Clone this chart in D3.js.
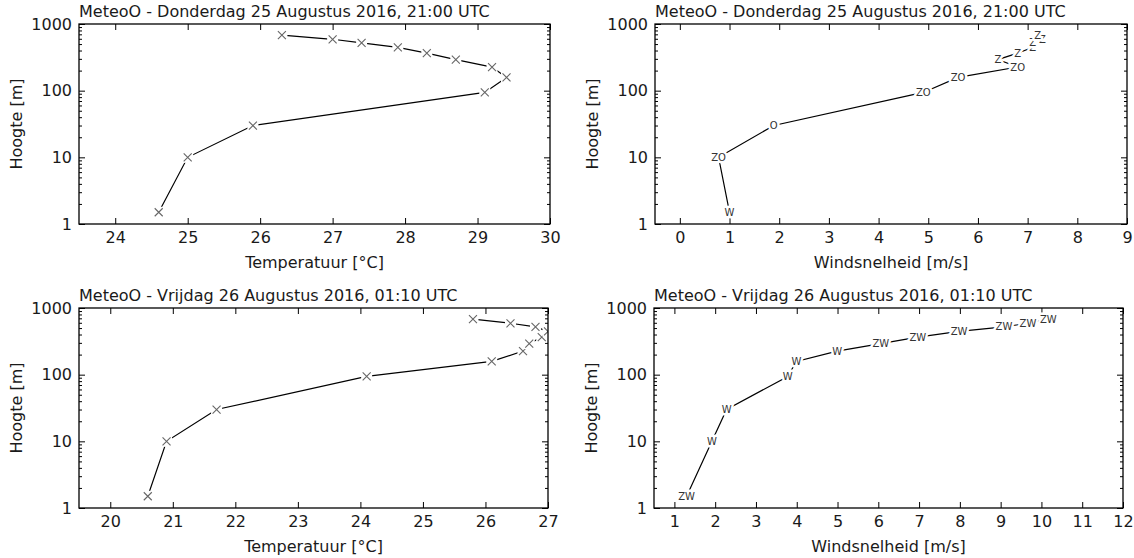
<!DOCTYPE html>
<html>
<head>
<meta charset="utf-8">
<script src="https://cdn.jsdelivr.net/npm/d3@7"></script>
<style>
  html, body { margin: 0; padding: 0; background: #fff; }
  svg { display: block; font-family: "DejaVu Sans", sans-serif; }
</style>
</head>
<body>
<svg id="chart" width="1134" height="558"></svg>
<script>
// ---------- data ----------
const heights = [1.5, 10, 30, 94, 158, 226, 292, 366, 445, 522, 590, 680];

const temp1 = [24.6, 25.0, 25.9, 29.1, 29.4, 29.2, 28.7, 28.3, 27.9, 27.4, 27.0, 26.3];
const wind1 = [1.0, 0.78, 1.89, 4.9, 5.6, 6.8, 6.4, 6.8, 7.1, 7.1, 7.3, 7.2];
const dir1  = ["W", "ZO", "O", "ZO", "ZO", "ZO", "Z", "Z", "Z", "Z", "Z", "Z"];

const temp2 = [20.6, 20.9, 21.7, 24.1, 26.1, 26.6, 26.7, 26.9, 27.0, 26.8, 26.4, 25.8];
const wind2 = [1.3, 1.92, 2.28, 3.78, 3.99, 4.99, 6.06, 6.97, 7.98, 9.08, 9.67, 10.17];
const dir2  = ["ZW", "W", "W", "W", "W", "W", "ZW", "ZW", "ZW", "ZW", "ZW", "ZW"];

const title1 = "MeteoO - Donderdag 25 Augustus 2016, 21:00 UTC";
const title2 = "MeteoO - Vrijdag 26 Augustus 2016, 01:10 UTC";
const yTicks = [1, 10, 100, 1000];
const tempTicks1 = [24, 25, 26, 27, 28, 29, 30];
const windTicks1 = [0, 1, 2, 3, 4, 5, 6, 7, 8, 9];
const tempTicks2 = [20, 21, 22, 23, 24, 25, 26, 27];
const windTicks2 = [1, 2, 3, 4, 5, 6, 7, 8, 9, 10, 11, 12];
const xLabelTemp = "Temperatuur [°C]";
const xLabelWind = "Windsnelheid [m/s]";
const yLabel = "Hoogte [m]";

// ---------- layout ----------
const panels = [
  { box: [79, 550, 24, 224],   xdom: [23.5, 30], ticks: tempTicks1, xs: temp1, kind: "x", title: title1, xlabel: xLabelTemp },
  { box: [655, 1127, 24, 224], xdom: [-0.5, 9],  ticks: windTicks1, xs: wind1, kind: "t", labels: dir1, title: title1, xlabel: xLabelWind },
  { box: [79, 548, 308, 508],  xdom: [19.5, 27], ticks: tempTicks2, xs: temp2, kind: "x", title: title2, xlabel: xLabelTemp },
  { box: [654, 1123, 308, 508], xdom: [0.5, 12], ticks: windTicks2, xs: wind2, kind: "t", labels: dir2, title: title2, xlabel: xLabelWind }
];

const svg = d3.select("#chart");
const FS = 16;

panels.forEach((p, i) => {
  const [x0, x1, y0, y1] = p.box;
  const x = d3.scaleLinear().domain(p.xdom).range([x0, x1]);
  const y = d3.scaleLog().domain([1, 1000]).range([y1, y0]);
  const g = svg.append("g");
  const clipId = "clip" + i;
  g.append("clipPath").attr("id", clipId).append("rect")
    .attr("x", x0).attr("y", y0).attr("width", x1 - x0).attr("height", y1 - y0);

  const minor = [];
  for (let d = 1; d < 1000; d *= 10) for (let k = 2; k <= 9; k++) minor.push(d * k);

  const styleAxis = sel => {
    sel.select(".domain").remove();
    sel.selectAll(".tick line").attr("stroke", "#000").attr("stroke-width", 1);
    sel.selectAll(".tick text").attr("font-size", FS).attr("fill", "#1a1a1a")
      .attr("font-family", "DejaVu Sans, sans-serif");
  };

  g.append("g").attr("transform", `translate(0,${y1})`)
    .call(d3.axisBottom(x).tickValues(p.ticks).tickFormat(d3.format("d")).tickSizeInner(-6).tickSizeOuter(0).tickPadding(8))
    .call(styleAxis);
  g.append("g").attr("transform", `translate(0,${y0})`)
    .call(d3.axisTop(x).tickValues(p.ticks).tickFormat("").tickSizeInner(-6).tickSizeOuter(0))
    .call(styleAxis);
  g.append("g").attr("transform", `translate(${x0},0)`)
    .call(d3.axisLeft(y).tickValues(yTicks).tickFormat(d3.format("d")).tickSizeInner(-6).tickSizeOuter(0).tickPadding(7))
    .call(styleAxis);
  g.append("g").attr("transform", `translate(${x0},0)`)
    .call(d3.axisLeft(y).tickValues(minor).tickFormat("").tickSizeInner(-3).tickSizeOuter(0))
    .call(styleAxis);
  g.append("g").attr("transform", `translate(${x1},0)`)
    .call(d3.axisRight(y).tickValues(yTicks).tickFormat("").tickSizeInner(-6).tickSizeOuter(0))
    .call(styleAxis);
  g.append("g").attr("transform", `translate(${x1},0)`)
    .call(d3.axisRight(y).tickValues(minor).tickFormat("").tickSizeInner(-3).tickSizeOuter(0))
    .call(styleAxis);

  const pts = p.xs.map((v, k) => ({ v, h: heights[k], lab: p.labels ? p.labels[k] : null }));
  const data = g.append("g").attr("clip-path", `url(#${clipId})`);
  data.append("path").datum(pts)
    .attr("d", d3.line().x(d => x(d.v)).y(d => y(d.h)))
    .attr("fill", "none").attr("stroke", "#000").attr("stroke-width", 1.2);

  if (p.kind === "x") {
    const m = data.selectAll(".mk").data(pts).enter().append("g")
      .attr("transform", d => `translate(${x(d.v)},${y(d.h)})`);
    m.append("rect").attr("x", -5.5).attr("y", -5.5).attr("width", 11).attr("height", 11).attr("fill", "#fff");
    m.append("path").attr("d", "M-4,-4L4,4M-4,4L4,-4").attr("stroke", "#666").attr("stroke-width", 1.1).attr("fill", "none");
  } else {
    data.selectAll(".mk").data(pts).enter().append("text")
      .attr("x", d => x(d.v)).attr("y", d => y(d.h))
      .text(d => d.lab).attr("font-size", 10)
      .attr("text-anchor", "middle").attr("dy", "0.36em").attr("fill", "#333")
      .attr("stroke", "#fff").attr("stroke-width", 5).attr("stroke-linejoin", "round")
      .style("paint-order", "stroke");
  }

  g.append("rect").attr("x", x0).attr("y", y0).attr("width", x1 - x0).attr("height", y1 - y0)
    .attr("fill", "none").attr("stroke", "#000").attr("stroke-width", 1.3);

  g.append("text").attr("x", x0).attr("y", y0 - 7).text(p.title)
    .attr("font-size", FS).attr("fill", "#1a1a1a");
  g.append("text").attr("x", (x0 + x1) / 2).attr("y", y1 + 44).text(p.xlabel)
    .attr("text-anchor", "middle").attr("font-size", FS).attr("fill", "#1a1a1a");
  g.append("text").attr("transform", `translate(${x0 - 57},${(y0 + y1) / 2}) rotate(-90)`)
    .text(yLabel).attr("text-anchor", "middle").attr("font-size", FS).attr("fill", "#1a1a1a");
});
</script>
</body>
</html>
